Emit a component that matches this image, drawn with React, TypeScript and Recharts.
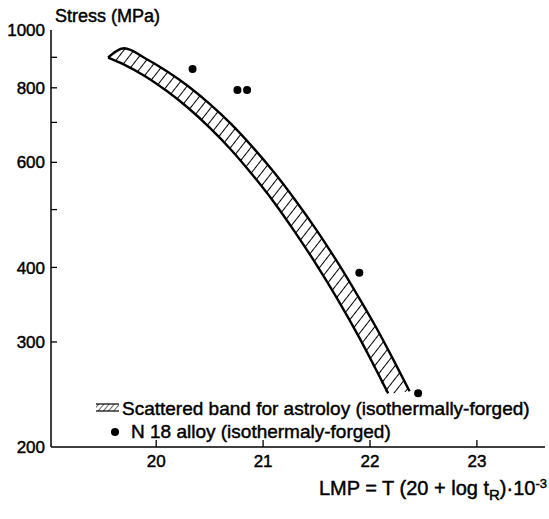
import React from 'react';
import {
  ComposedChart,
  Area,
  Line,
  Scatter,
  XAxis,
  YAxis,
  Legend,
} from 'recharts';

// ---- data ----
const bandX = [19.55, 19.7, 19.9, 20.1, 20.3, 20.5, 20.7, 20.9, 21.1, 21.3, 21.5, 21.7, 21.9, 22.05, 22.17, 22.37];
const bandUpper = [899, 932, 896, 853, 805, 752, 696, 637, 578, 519, 462, 407, 355, 319, 291, 248];
const bandLower = [899, 875, 836, 790, 740, 686, 630, 572, 515, 458, 404, 353, 305, 271, 246, 248];
// the lower edge line stops where the hatching's end begins
const bandLowerEdgeEnd = 22.17;

const n18X = [20.34, 20.76, 20.85, 21.9, 22.45];
const n18Y = [860, 793, 793, 392, 246];

const xTicks = [20, 21, 22, 23];
const yTicks = [200, 300, 400, 500, 600, 700, 800, 900, 1000];
const yTickLabels = [200, 300, 400, 600, 800, 1000];

const xDomain: [number, number] = [19.016, 23.637];
const yDomain: [number, number] = [200, 1000];

const bandName = 'Scattered band for astroloy (isothermally-forged)';
const n18Name = 'N 18 alloy (isothermaly-forged)';

const FONT = '"Liberation Sans", Arial, Helvetica, sans-serif';
const TXT = { fontFamily: FONT, fill: '#000', stroke: '#000', strokeWidth: 0.45 };

const bandData = bandX.map((x, i) => ({
  x,
  band: [bandLower[i], bandUpper[i]],
  hi: bandUpper[i],
  lo: x <= bandLowerEdgeEnd ? bandLower[i] : null,
}));

const n18Data = n18X.map((x, i) => ({ x, y: n18Y[i] }));

const YTick = (props: any) => {
  const { x, y, payload } = props;
  const v = payload.value;
  const showLabel = yTickLabels.includes(v);
  const showLine = v !== 200 && v !== 1000;
  return (
    <g>
      {showLine && <line x1={x + 6} x2={x + 12} y1={y} y2={y} stroke="#000" strokeWidth={1.3} />}
      {showLabel && (
        <text x={x} y={y} dy="0.36em" textAnchor="end" fontSize={17} {...TXT}>
          {v}
        </text>
      )}
    </g>
  );
};

const XTick = (props: any) => {
  const { x, y, payload } = props;
  return (
    <g>
      <line x1={x} x2={x} y1={y - 8} y2={y - 15} stroke="#000" strokeWidth={1.3} />
      <text x={x} y={y} dy="0.71em" textAnchor="middle" fontSize={17} {...TXT}>
        {payload.value}
      </text>
    </g>
  );
};

const renderLegend = () => (
  <svg width={455} height={50} style={{ display: 'block', overflow: 'visible' }}>
    <rect x={6} y={9} width={23} height={7} fill="url(#hatch-legend)" />
    <line x1={6} x2={29} y1={9} y2={9} stroke="#000" strokeWidth={1.2} />
    <line x1={6} x2={29} y1={16} y2={16} stroke="#000" strokeWidth={1.2} />
    <text x={32} y={13} dy="0.36em" fontSize={19} {...TXT}>
      {bandName}
    </text>
    <circle cx={25} cy={37} r={4} fill="#000" />
    <text x={41} y={36} dy="0.36em" fontSize={19} {...TXT}>
      {n18Name}
    </text>
  </svg>
);

export default function App() {
  return (
    <div style={{ position: 'absolute', left: 0, top: 0, width: 549, height: 519, background: '#fff' }}>
      <svg width={0} height={0} style={{ position: 'absolute' }}>
        <defs>
          <pattern id="hatch" width={8} height={8} patternUnits="userSpaceOnUse" patternTransform="rotate(38)">
            <line x1={0} y1={-1} x2={0} y2={9} stroke="#000" strokeWidth={2} />
          </pattern>
          <pattern id="hatch-legend" width={4} height={4} patternUnits="userSpaceOnUse" patternTransform="rotate(40)">
            <line x1={0} y1={-1} x2={0} y2={5} stroke="#000" strokeWidth={1.2} />
          </pattern>
        </defs>
      </svg>
      <ComposedChart
        width={549}
        height={519}
        data={bandData}
        margin={{ top: 30, right: 4, bottom: 0, left: 0 }}
      >
        <XAxis
          dataKey="x"
          type="number"
          domain={xDomain}
          allowDataOverflow
          ticks={xTicks}
          tickSize={0}
          tickMargin={8}
          tick={<XTick />}
          height={72}
          axisLine={{ stroke: '#000', strokeWidth: 1.5 }}
          label={{
            content: () => (
              <text x={547} y={495} textAnchor="end" fontSize={20} {...TXT}>
                LMP = T (20 + log t
                <tspan dy={5} fontSize={15}>R</tspan>
                <tspan dy={-5}>)·10</tspan>
                <tspan dy={-7} fontSize={13}>-3</tspan>
              </text>
            ),
          }}
        />
        <XAxis
          xAxisId="top"
          orientation="top"
          type="number"
          domain={xDomain}
          allowDataOverflow
          height={0}
          tick={false}
          tickLine={false}
          axisLine={{ stroke: '#000', strokeWidth: 1.2 }}
        />
        <YAxis
          type="number"
          scale="log"
          domain={yDomain}
          allowDataOverflow
          ticks={yTicks}
          interval={0}
          tickSize={0}
          tickMargin={6}
          tick={<YTick />}
          width={51}
          axisLine={{ stroke: '#000', strokeWidth: 1.5 }}
          label={{
            content: () => (
              <text x={55} y={22} fontSize={18} {...TXT}>
                Stress (MPa)
              </text>
            ),
          }}
        />
        <YAxis
          yAxisId="right"
          orientation="right"
          type="number"
          domain={[0, 1]}
          width={0}
          tick={false}
          tickLine={false}
          axisLine={{ stroke: '#000', strokeWidth: 1.2 }}
        />
        <Area
          dataKey="band"
          type="monotone"
          stroke="none"
          fill="url(#hatch)"
          fillOpacity={1}
          isAnimationActive={false}
          legendType="none"
        />
        <Line dataKey="hi" type="monotone" stroke="#000" strokeWidth={2.4} dot={false} isAnimationActive={false} legendType="none" />
        <Line dataKey="lo" type="monotone" stroke="#000" strokeWidth={2.4} dot={false} connectNulls={false} isAnimationActive={false} legendType="none" />
        <Scatter
          data={n18Data}
          dataKey="y"
          fill="#000"
          shape={(p: any) => <circle cx={p.cx} cy={p.cy} r={4} fill="#000" />}
          isAnimationActive={false}
        />
        <Legend
          layout="horizontal"
          verticalAlign="middle"
          align="center"
          content={renderLegend}
          wrapperStyle={{ left: 90, top: 395, width: 455, height: 50 }}
        />
      </ComposedChart>
    </div>
  );
}
